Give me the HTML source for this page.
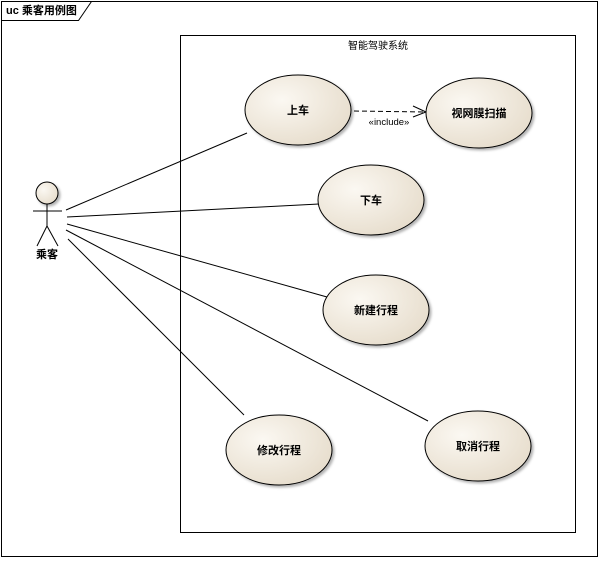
<!DOCTYPE html>
<html><head><meta charset="utf-8"><style>
body{margin:0;background:#fff;width:600px;height:558px;overflow:hidden}
text{font-family:"Liberation Sans","Noto Sans CJK SC",sans-serif}
</style></head><body>
<svg width="600" height="558" xmlns="http://www.w3.org/2000/svg">
<defs>
<radialGradient id="g" cx="35%" cy="35%" r="75%"><stop offset="0" stop-color="#fbf8f2"/><stop offset="1" stop-color="#e6dccb"/></radialGradient>
<filter id="s" x="-20%" y="-20%" width="150%" height="150%"><feDropShadow dx="2" dy="2" stdDeviation="1.2" flood-color="#000" flood-opacity="0.3"/></filter>
</defs>
<rect x="1.5" y="1.5" width="596" height="555" fill="#fff" stroke="#000"/>
<path d="M1.5 20.5 H78.5 L91.5 1.5" fill="none" stroke="#000"/>
<text x="6" y="14" font-size="11" font-weight="bold">uc 乘客用例图</text>
<rect x="180.5" y="35.5" width="395" height="497" fill="#fff" stroke="#000"/>
<text x="378" y="49" font-size="10" text-anchor="middle">智能驾驶系统</text>
<g stroke="#000" fill="none">
<line x1="66" y1="210" x2="247" y2="133"/>
<line x1="67" y1="217" x2="319" y2="204"/>
<line x1="67" y1="224" x2="327" y2="297"/>
<line x1="66" y1="230" x2="428" y2="421"/>
<line x1="68" y1="239" x2="244" y2="415"/>
<line x1="354" y1="111" x2="425" y2="112" stroke-dasharray="5,3"/>
<path d="M413 106 L426 112 L413 117"/>
</g>
<text x="389" y="125" font-size="9.5" text-anchor="middle">«include»</text>
<g fill="url(#g)" stroke="#000" filter="url(#s)">
<ellipse cx="298" cy="110" rx="53" ry="35"/>
<ellipse cx="479" cy="113" rx="53" ry="35"/>
<ellipse cx="371" cy="200" rx="53" ry="35"/>
<ellipse cx="376" cy="310" rx="53" ry="35"/>
<ellipse cx="279" cy="450" rx="53" ry="35"/>
<ellipse cx="478" cy="446" rx="53" ry="35"/>
<circle cx="47" cy="193" r="11"/>
</g>
<g font-size="11" font-weight="bold" text-anchor="middle">
<text x="298" y="114">上车</text>
<text x="479" y="117">视网膜扫描</text>
<text x="371" y="204">下车</text>
<text x="376" y="314">新建行程</text>
<text x="279" y="454">修改行程</text>
<text x="478" y="450">取消行程</text>
<text x="47" y="258">乘客</text>
</g>
<g stroke="#000" fill="none">
<line x1="47" y1="204" x2="47" y2="226"/>
<line x1="33" y1="211" x2="62" y2="211"/>
<path d="M37 246 L47 226 L58 246"/>
</g>
</svg>
</body></html>
